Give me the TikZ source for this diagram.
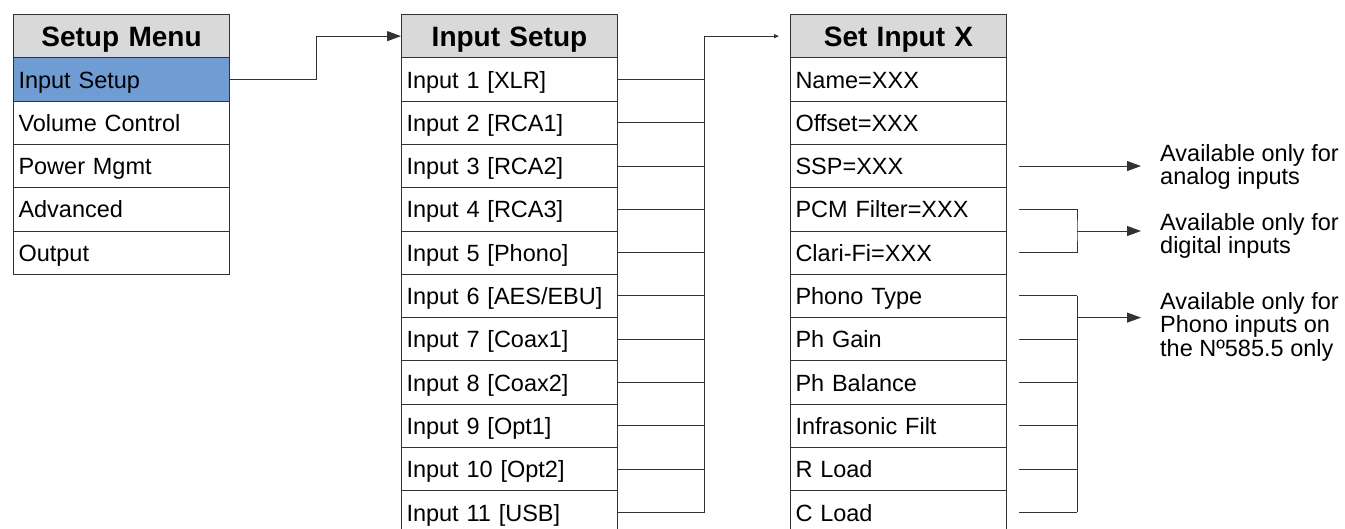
\documentclass[tikz,border=0pt]{standalone}
\usepackage{fontspec}
\setmainfont{Liberation Sans}
\usetikzlibrary{calc,arrows.meta}
\definecolor{hdrgray}{RGB}{217,217,217}
\definecolor{selblue}{RGB}{111,157,211}
\definecolor{linegray}{RGB}{50,50,50}
\tikzset{
 rowbox/.style={draw=linegray, line width=1pt, fill=white, text width=206pt, align=left, inner xsep=5pt, inner ysep=0pt, minimum height=43.3pt, text height=17.2pt, text depth=0pt, anchor=north west, font=\fontsize{23.5}{26}\selectfont, text=black},
 hdrbox/.style={rowbox, fill=hdrgray, align=center, text height=20.2pt, font=\bfseries\fontsize{28}{30}\selectfont},
 selbox/.style={rowbox, fill=selblue},
 conn/.style={draw=linegray, line width=1pt},
 bigarrow/.style={conn, -{Triangle[length=14pt,width=10pt]}},
 smallarrow/.style={conn, -{Triangle[length=5pt,width=4pt]}},
 note/.style={anchor=north west, align=left, inner sep=0pt, font=\fontsize{23.5}{23.7}\selectfont}
}
\begin{document}
\begin{tikzpicture}[x=1pt,y=-1pt]
\useasboundingbox (0,0) rectangle (1345,528);
% Setup Menu column
\node[hdrbox] (sm0) at (13,14) {Setup Menu};
\node[selbox] (sm1) at (13,{14+43.3}) {Input Setup};
\foreach \t [count=\k from 2] in {Volume Control,Power Mgmt,Advanced,Output}
  \node[rowbox] (sm\k) at (13,{14+43.3*\k}) {\t};
% Input Setup column
\node[hdrbox] (is0) at (401,14) {Input Setup};
\foreach \t [count=\k] in {Input 1 [XLR],Input 2 [RCA1],Input 3 [RCA2],Input 4 [RCA3],Input 5 [Phono],Input 6 [AES/EBU],Input 7 [Coax1],Input 8 [Coax2],Input 9 [Opt1],Input 10 [Opt2],Input 11 [USB]}
  \node[rowbox] (is\k) at (401,{14+43.3*\k}) {\t};
% Set Input X column
\node[hdrbox] (sx0) at (790,14) {Set Input X};
\foreach \t [count=\k] in {Name=XXX,Offset=XXX,SSP=XXX,PCM Filter=XXX,Clari-Fi=XXX,Phono Type,Ph Gain,Ph Balance,Infrasonic Filt,R Load,C Load}
  \node[rowbox] (sx\k) at (790,{14+43.3*\k}) {\t};
% connectors
\draw[bigarrow] (sm1.east) -- ++(86,0) |- (is0.west);
\foreach \k in {1,...,10} \draw[conn] (is\k.east) -- ++(86,0);
\coordinate (sxin) at ($(sx0.west)+(-11,0)$);
\draw[smallarrow] (is11.east) -- ++(86,0) |- (sxin);
% notes
\node[note] (n1) at (1160,144) {Available only for\\analog inputs};
\node[note] (n2) at (1160,213) {Available only for\\digital inputs};
\node[note] (n3) at (1160,292) {Available only for\\Phono inputs on\\the Nº585.5 only};
% SSP
\coordinate (a1s) at ($(sx3.east)+(12,0)$);
\coordinate (a1e) at ($(sx3.east)+(134,0)$);
\draw[bigarrow] (a1s) -- (a1e);
% digital bracket
\coordinate (dj) at ($(sx4.east)!0.5!(sx5.east)+(70,0)$);
\draw[conn] ($(sx4.east)+(12,0)$) -| (dj) |- ($(sx5.east)+(12,0)$);
\draw[bigarrow] (dj) -- ++(64,0);
% phono bracket
\foreach \k in {6,...,11} \draw[conn] ($(sx\k.east)+(12,0)$) -- ++(58,0);
\draw[conn] ($(sx6.east)+(70,0)$) -- ($(sx11.east)+(70,0)$);
\coordinate (pj) at ($(sx6.east)!0.5!(sx7.east)+(70,0)$);
\draw[bigarrow] (pj) -- ++(64,0);
\end{tikzpicture}
\end{document}
